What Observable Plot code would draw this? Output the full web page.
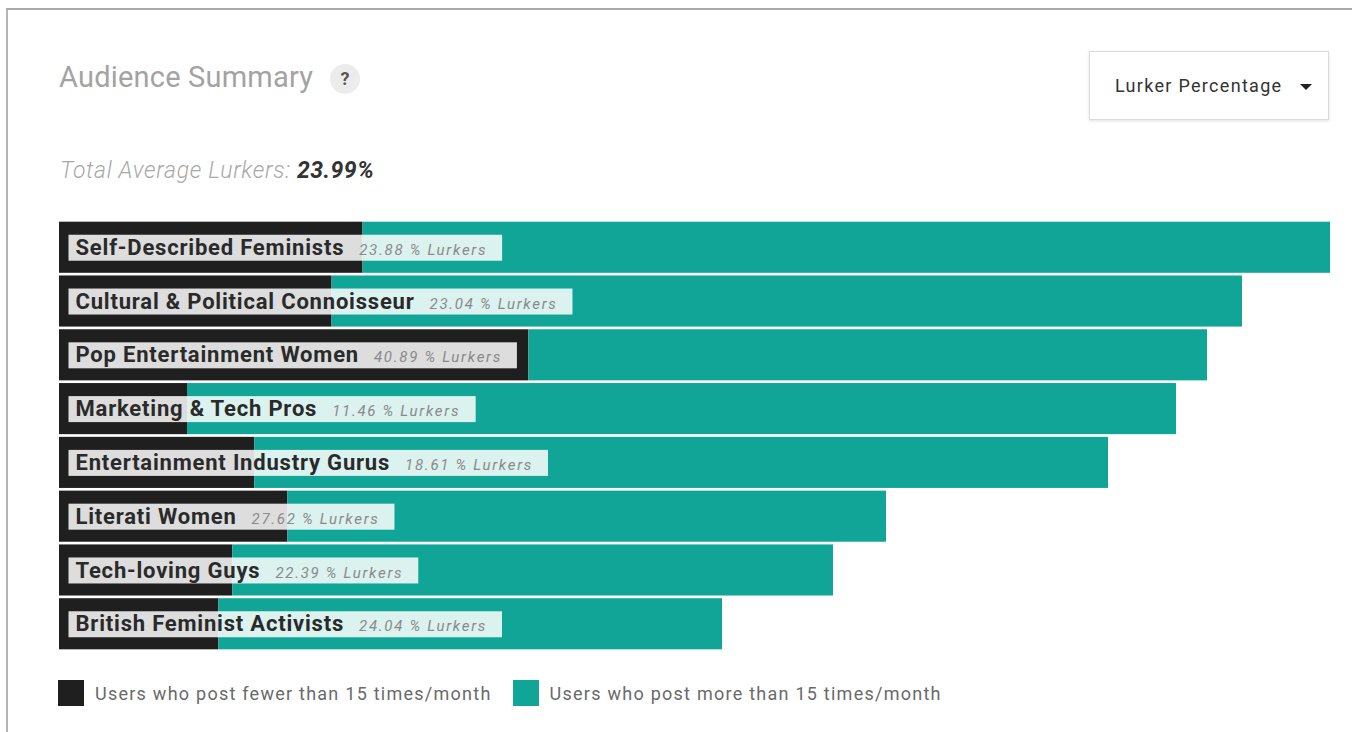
<!DOCTYPE html>
<html>
<head>
<meta charset="utf-8">
<script src="https://cdn.jsdelivr.net/npm/d3@7"></script>
<script src="https://cdn.jsdelivr.net/npm/@observablehq/plot@0.6"></script>
<style>
  html, body { margin: 0; padding: 0; background: #fff; width: 1352px; height: 732px; overflow: hidden; font-family: Roboto, "Noto Sans", sans-serif; }
  #frame { position: absolute; left: 6px; top: 8px; width: 1352px; height: 740px; border-top: 2px solid #a9a9a9; border-left: 2px solid #b4b4b4; z-index: 10; pointer-events: none; }
  #title { position: absolute; left: 59px; top: 60px; font-size: 29px; color: #a3a3a3; font-weight: 400; letter-spacing: 0.2px; }
  #help { position: absolute; left: 330px; top: 64px; width: 30px; height: 30px; border-radius: 50%; background: #ececec; color: #555; font-weight: 700; font-size: 18px; text-align: center; line-height: 30px; }
  #sub { position: absolute; left: 60px; top: 157px; font-size: 23px; font-style: italic; font-weight: 300; color: #a8a8a8; letter-spacing: 0.7px; }
  #sub b { color: #333; font-weight: 700; letter-spacing: 0.5px; }
  #dropdown { position: absolute; left: 1089px; top: 51px; width: 240px; height: 69px; border: 1px solid #dcdcdc; box-shadow: 0 1px 3px rgba(0,0,0,0.12); box-sizing: border-box; font-size: 18px; color: #333; letter-spacing: 1.3px; }
  #dropdown span { position: absolute; left: 25px; top: 23px; }
  #dropdown i { position: absolute; left: 210px; top: 32px; width: 0; height: 0; border-left: 6px solid transparent; border-right: 6px solid transparent; border-top: 6px solid #222; }
  #chart { position: absolute; left: 0; top: 200px; line-height: 0; }
  #legend { position: absolute; left: 58px; top: 680px; display: flex; align-items: center; font-size: 18px; color: #6a6a6a; letter-spacing: 1.25px; }
  #legend .sw { width: 26px; height: 26px; margin-right: 11px; }
  #legend .item { display: flex; align-items: center; margin-right: 21px; }
</style>
</head>
<body>
<div id="frame"></div>
<div id="title">Audience Summary</div>
<div id="help">?</div>
<div id="sub">Total Average Lurkers: <b>23.99%</b></div>
<div id="dropdown"><span>Lurker Percentage</span><i></i></div>
<div id="chart"></div>
<div id="legend"></div>
<script>
const categories = [
  "Self-Described Feminists",
  "Cultural & Political Connoisseur",
  "Pop Entertainment Women",
  "Marketing & Tech Pros",
  "Entertainment Industry Gurus",
  "Literati Women",
  "Tech-loving Guys",
  "British Feminist Activists"
];
// relative audience size
const audienceSize = [1271, 1183, 1148, 1117, 1049, 827, 774, 663];
// lurker percentage per audience
const lurkerPct = [23.88, 23.04, 40.89, 11.46, 18.61, 27.62, 22.39, 24.04];
const seriesNames = ["Users who post fewer than 15 times/month", "Users who post more than 15 times/month"];
const seriesColors = ["#1f1f1f", "#10a596"];

const rows = categories.map((name, i) => {
  const lurk = audienceSize[i] * lurkerPct[i] / 100;
  return { name, total: audienceSize[i], lurk, pct: lurkerPct[i] };
});

// text measurement for the label boxes
const mctx = document.createElement("canvas").getContext("2d");
function measure(str, font, spacing) {
  mctx.font = font;
  return mctx.measureText(str).width + spacing * str.length;
}
const NAME_FONT = "700 22px Roboto", NAME_LS = 0.8;
const PCT_FONT = "italic 400 15px Roboto", PCT_LS = 1.7;
const GAP = 15;

const chart = Plot.plot({
  width: 1352,
  height: 460,
  marginLeft: 59,
  marginRight: 22,
  marginTop: 19,
  marginBottom: 8,
  x: { domain: [0, d3.max(audienceSize)], axis: null },
  y: { domain: categories, axis: null, padding: 0.05, round: false },
  style: { fontFamily: "Roboto, sans-serif", background: "transparent" },
  marks: [
    Plot.barX(rows, { y: "name", x1: 0, x2: "lurk", fill: seriesColors[0] }),
    Plot.barX(rows, { y: "name", x1: "lurk", x2: "total", fill: seriesColors[1] }),
    Plot.text(rows, {
      y: "name", x: 0, text: "name", dx: 16, textAnchor: "start",
      fontWeight: 700, fontSize: 22, fill: "#2a2a2a",
      render(index, scales, values, dims, ctx, next) {
        const g = next(index, scales, values, dims, ctx);
        const NS = "http://www.w3.org/2000/svg";
        const texts = Array.from(g.querySelectorAll("text"));
        texts.forEach((t, k) => {
          const i = index[k];
          t.setAttribute("letter-spacing", NAME_LS);
          const ts = document.createElementNS(NS, "tspan");
          ts.setAttribute("dx", GAP);
          ts.setAttribute("font-weight", "400");
          ts.setAttribute("font-style", "italic");
          ts.setAttribute("font-size", "15");
          ts.setAttribute("fill", "#8a8a8a");
          ts.setAttribute("letter-spacing", PCT_LS);
          const pctLabel = rows[i].pct.toFixed(2) + " % Lurkers";
          ts.textContent = pctLabel;
          t.appendChild(ts);
          // position of the text as placed by Plot
          let px = 0, py = 0;
          const tr = t.getAttribute("transform");
          const m = tr && tr.match(/translate\(\s*([-\d.e]+)[ ,]+([-\d.e]+)\s*\)/);
          if (m) { px = +m[1]; py = +m[2]; }
          else { px = +(t.getAttribute("x") || 0); py = +(t.getAttribute("y") || 0); }
          const w = measure(rows[i].name, NAME_FONT, NAME_LS) + GAP + measure(pctLabel, PCT_FONT, PCT_LS);
          const r = document.createElementNS(NS, "rect");
          r.setAttribute("x", px - 7);
          r.setAttribute("y", py - 13);
          r.setAttribute("width", w + 22);
          r.setAttribute("height", 26);
          r.setAttribute("fill", "#ffffff");
          r.setAttribute("fill-opacity", "0.85");
          r.setAttribute("stroke", "none");
          g.insertBefore(r, g.firstChild);
        });
        return g;
      }
    })
  ]
});
document.getElementById("chart").appendChild(chart);

const legend = document.getElementById("legend");
seriesNames.forEach((s, i) => {
  const it = document.createElement("div");
  it.className = "item";
  it.innerHTML = `<div class="sw" style="background:${seriesColors[i]}"></div><span>${s}</span>`;
  legend.appendChild(it);
});
</script>
</body>
</html>
